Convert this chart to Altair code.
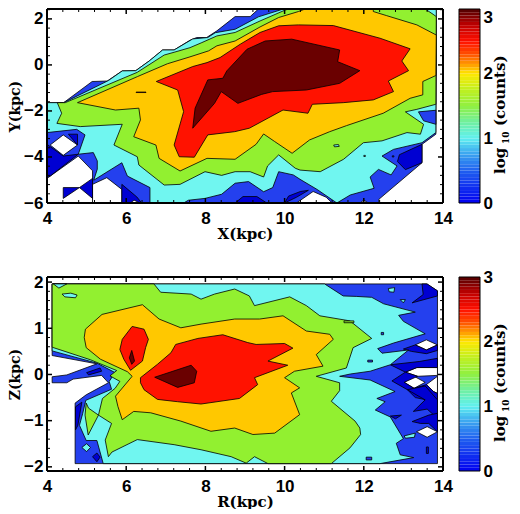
import altair as alt
import pandas as pd

DARK="#0000d2"; BLUE="#2440ee"; CYAN="#70f6f0"; GREEN="#92f030"; ORANGE="#ffc800"; RED="#ff1200"; DEEP="#6a0000"; WHITE="#ffffff"

# ---------- X-Y panel contour boundaries (kpc) ----------
T_BLUE=[(4,-1.64),(4.42,-1.64),(5.14,-0.72),(5.52,-0.70),(5.9,-0.26),(6.24,-0.25),(6.58,0.17),(6.92,0.65),(7.21,0.65),(7.61,1.07),(7.78,1.19),(8.03,1.19),(8.29,1.48),(8.75,2.10),(9.13,2.10),(9.34,2.43),(13.83,2.43),(13.82,-3.01),(13.47,-3.45),(13.47,-4.25),(12.38,-5.84),(12.38,-6),(4,-6)]
T_WHITE1=[(4.41,-3.04),(4.77,-3.48),(4.41,-3.93),(4.08,-3.48)]
T_WHITE2=[(4,-6),(4,-4.9),(4.05,-4.87),(4.79,-3.96),(5.15,-4.6),(5.15,-6)]
T_WHITE3=[(5.15,-6),(5.15,-5.19),(5.51,-4.9),(5.89,-5.41),(5.89,-6)]
T_DARK1=[(4,-3.45),(4.41,-3.96),(4.79,-3.88),(4.05,-4.87),(4,-4.87)]
T_DARK2=[(4.54,-3.01),(4.77,-3.01),(4.77,-3.48)]
T_DARK3=[(4.41,-5.33),(4.82,-5.33),(5.15,-4.93),(5.15,-5.8),(4.82,-5.33),(4.41,-5.8)]
T_DARK4=[(5.89,-5.19),(6.27,-5.74),(6.39,-6),(5.89,-6)]
T_DARK5=[(8.75,-6),(8.95,-5.72),(9.3,-5.72),(9.55,-6)]
T_DARK6=[(12.9,-3.9),(13.47,-3.45),(13.47,-4.25),(13.05,-4.55),(12.85,-4.2)]
T_DARK7=[(10.0,-6),(10.1,-5.7),(10.4,-5.5),(10.6,-5.45),(10.3,-5.75)]
T_WHITE4=[(10.3,-6),(10.72,-5.5),(11.05,-5.75),(11.2,-6)]
T_WHITE5=[(6.1,-6),(6.2,-5.88),(6.35,-6)]
T_WHITE6=[(11.9,-6),(12.0,-5.88),(12.12,-6)]
T_CYAN=[(4,-1.64),(4.42,-1.64),(5.55,-0.68),(5.9,-0.26),(6.24,-0.25),(6.58,0.17),(6.92,0.65),(7.21,0.65),(7.68,1.13),(8.06,1.19),(8.25,1.40),(8.75,1.55),(9.34,2.09),(9.97,2.43),(13.83,2.43),(13.82,-2.94),(13.47,-3.38),(12.75,-3.67),(12.46,-3.96),(12.84,-4.39),(12.69,-4.78),(12.37,-4.54),(12.16,-4.87),(12.26,-5.36),(11.66,-5.65),(11.32,-6),(10.82,-5.41),(10.39,-4.97),(10.22,-4.78),(9.85,-4.64),(9.70,-5.33),(9.47,-5.51),(9.09,-5.07),(8.75,-5.14),(8.41,-5.62),(7.99,-5.80),(7.57,-5.88),(7.45,-6),(6.60,-6),(6.60,-5.33),(6.03,-4.83),(5.89,-4.25),(5.18,-5.01),(5.27,-4.53),(5.27,-4.17),(5.17,-3.81),(4.79,-3.88),(4.96,-3.04),(4.75,-2.8),(4,-2.94)]
T_BLUE2=[(13.38,-2.04),(13.82,-1.97),(13.82,-2.58),(13.51,-2.43)]
T_GREEN=[(4.26,-1.64),(4.46,-1.64),(6.28,-0.32),(6.96,0.43),(7.21,0.55),(7.61,0.75),(7.91,0.97),(8.29,1.26),(8.75,1.41),(9.38,1.91),(10.01,2.38),(10.1,2.43),(13.55,2.43),(13.75,2.2),(13.83,2.1),(13.82,-1.71),(13.34,-1.93),(13.05,-2.04),(13.51,-2.58),(13.43,-3.01),(13.09,-2.94),(12.46,-3.30),(11.99,-3.38),(11.49,-4.10),(10.90,-4.64),(10.39,-4.57),(10.27,-4.49),(9.85,-3.91),(9.57,-4.39),(9.47,-4.87),(9.13,-4.64),(8.75,-4.64),(8.41,-4.80),(7.99,-4.64),(7.36,-5.19),(6.96,-5.22),(6.32,-4.35),(6.28,-3.99),(5.69,-3.48),(5.90,-2.58),(4.84,-2.68),(4.25,-2.54),(4.37,-2.10)]
T_ORANGE=[(4.77,-1.64),(6.28,-0.51),(7.04,0.05),(7.61,0.35),(8.08,0.61),(8.29,0.83),(8.75,1.04),(9.38,1.65),(9.85,2.06),(10.35,2.32),(10.52,2.43),(12.24,2.43),(12.24,2.32),(12.58,2.14),(13.34,1.74),(13.83,1.30),(13.82,-0.46),(13.49,-0.72),(13.49,-1.30),(13.17,-1.45),(12.49,-2.10),(11.56,-2.64),(11.14,-2.90),(10.63,-3.26),(10.19,-3.84),(9.75,-3.33),(9.47,-3.0),(9.28,-3.45),(8.75,-4.10),(8.04,-4.06),(7.36,-4.61),(6.83,-4.06),(6.75,-3.48),(6.19,-3.12),(6.36,-2.39),(6.32,-1.88),(5.73,-1.96)]
T_RED=[(6.76,-0.72),(7.68,-0.07),(8.04,0.10),(8.37,0.32),(8.88,0.90),(9.38,1.41),(9.85,1.70),(10.35,1.74),(11.23,1.71),(12.41,1.16),(13.17,0.70),(12.96,0.17),(13.13,-0.25),(12.62,-0.70),(12.75,-1.16),(12.24,-1.52),(11.48,-1.64),(10.70,-1.71),(10.59,-2.10),(9.96,-1.96),(9.11,-2.75),(8.74,-2.90),(8.06,-3.04),(7.72,-4.01),(7.34,-3.99),(7.21,-3.48),(7.45,-2.03),(7.30,-1.09)]
T_DEEP=[(7.68,-2.75),(7.74,-1.88),(8.06,-0.65),(8.44,-0.58),(8.54,-0.26),(9.05,0.68),(9.51,1.04),(10.18,1.12),(11.39,0.65),(11.34,0.14),(11.90,-0.25),(11.39,-0.80),(10.55,-1.09),(9.70,-1.16),(9.42,-1.28),(8.82,-1.67),(8.40,-1.16),(8.23,-1.67)]
T_DASH1=[(6.25,-1.18),(6.5,-1.18),(6.5,-1.2),(6.25,-1.2)]
T_DASH2=[(11.24,-3.48),(11.36,-3.46),(11.38,-3.54),(11.26,-3.56)]
T_DASH3=[(12.0,-3.93),(12.04,-3.93),(12.04,-3.98),(12.0,-3.98)]
T_DASH4=[(12.72,-3.95),(12.76,-3.95),(12.76,-4.0),(12.72,-4.0)]
TOP=[(BLUE,T_BLUE),(WHITE,T_WHITE1),(WHITE,T_WHITE2),(WHITE,T_WHITE3),(WHITE,T_WHITE4),(DARK,T_DARK1),(DARK,T_DARK2),(DARK,T_DARK3),(DARK,T_DARK4),(DARK,T_DARK5),(DARK,T_DARK6),(DARK,T_DARK7),(WHITE,T_WHITE5),(WHITE,T_WHITE6),
     (CYAN,T_CYAN),(BLUE,T_BLUE2),(GREEN,T_GREEN),(ORANGE,T_ORANGE),(RED,T_RED),(DEEP,T_DEEP),(RED,T_DASH1),(CYAN,T_DASH2),(CYAN,T_DASH3),(BLUE,T_DASH4)]

# ---------- R-Z panel contour boundaries (kpc) ----------
B_BLUE=[(4.13,1.96),(13.59,1.96),(13.86,1.81),(13.86,-1.93),(4.71,-1.93),(4.71,-0.62),(4.99,-0.44),(5.55,-0.18),(5.38,-0.02),(4.66,-0.10),(4.50,-0.18),(4.13,-0.18),(4.13,-0.05),(4.50,-0.01),(5.26,0.23),(4.13,0.41)]
B_WHITE1=[(13.30,0.64),(13.58,0.75),(13.86,0.64),(13.58,0.53)]
B_WHITE2=[(13.05,0.05),(13.34,0.15),(13.86,0.15),(13.86,-0.02),(13.36,-0.04)]
B_WHITE3=[(13.02,-0.17),(13.27,-0.04),(13.55,-0.17),(13.27,-0.30)]
B_WHITE4=[(13.58,-0.22),(13.86,-0.04),(13.86,-0.41),(13.76,-0.37)]
B_WHITE5=[(13.33,-1.24),(13.6,-1.13),(13.86,-1.24),(13.6,-1.36)]
B_D1=[(13.47,1.96),(13.6,1.96),(13.86,1.81),(13.86,1.70),(13.22,1.55),(13.5,1.73)]
B_D2=[(13.0,0.55),(13.3,0.64),(13.58,0.53),(13.86,0.64),(13.86,0.52),(13.58,0.45),(13.2,0.5)]
B_D3=[(12.67,0.21),(13.4,0.28),(13.86,0.35),(13.86,0.15),(13.34,0.15),(13.05,0.05)]
B_D4=[(12.71,-0.14),(13.05,0.05),(13.36,-0.04),(13.02,-0.17),(13.27,-0.30),(13.58,-0.22),(13.76,-0.37),(13.86,-0.41),(13.86,-0.6),(13.3,-0.5),(13.1,-0.33)]
B_D5=[(13.1,-0.33),(13.55,-0.25),(13.86,-0.55),(13.86,-0.95),(13.6,-0.75),(13.25,-0.8),(13.55,-0.55)]
B_D6=[(13.22,-1.02),(13.64,-0.88),(13.86,-0.84),(13.86,-1.24),(13.64,-1.06),(13.43,-1.06)]
B_D7=[(12.67,-0.9),(12.95,-0.88),(12.8,-0.96)]
B_D8=[(13.58,-1.57),(13.63,-1.57),(13.63,-1.71),(13.58,-1.71)]
B_D9=[(4.72,-0.7),(4.88,-0.6),(4.78,-1.1),(4.72,-1.2)]
B_D10=[(5.0,0.04),(5.34,0.14),(5.38,0.07),(5.05,-0.01)]
B_D11=[(5.15,-1.78),(5.26,-1.70),(5.34,-1.79),(5.26,-1.89)]
B_D12=[(6.9,-1.9),(6.97,-1.72),(7.08,-1.72),(7.1,-1.9)]
B_CYAN=[(4.13,1.96),(11.01,1.96),(11.48,1.70),(11.81,1.69),(12.20,1.67),(12.50,1.53),(13.30,1.35),(12.88,1.28),(13.0,1.15),(13.55,0.88),(12.75,0.68),(12.35,0.56),(12.46,0.46),(13.13,0.53),(12.67,0.21),(12.16,0.07),(11.66,0.01),(11.39,-0.04),(12.16,-0.12),(12.79,-0.37),(12.33,-0.52),(12.54,-0.59),(12.29,-0.77),(12.67,-0.92),(13.0,-1.39),(12.82,-1.49),(12.92,-1.74),(13.26,-1.80),(12.41,-1.93),(5.42,-1.93),(5.26,-1.43),(4.99,-1.43),(4.82,-1.1),(4.9,-0.85),(4.98,-0.56),(5.63,-0.32),(5.57,-0.15),(5.72,0.04),(5.26,0.245),(4.13,0.51)]
B_GREEN=[(4.13,1.96),(6.70,1.96),(6.87,1.78),(7.64,1.74),(7.89,1.63),(8.23,1.74),(8.74,1.85),(9.11,1.70),(9.24,1.49),(10.13,1.68),(10.55,1.49),(10.89,1.27),(11.65,1.16),(12.20,0.78),(11.73,0.58),(11.56,0.14),(10.80,-0.04),(11.39,-0.18),(11.39,-0.35),(11.18,-0.58),(11.78,-1.01),(11.90,-1.16),(11.92,-1.30),(11.65,-1.59),(11.18,-1.93),(9.58,-1.93),(9.24,-1.78),(9.03,-1.92),(8.65,-1.78),(7.89,-1.63),(7.21,-1.52),(6.28,-1.41),(5.64,-1.68),(5.55,-1.78),(5.47,-1.42),(5.63,-1.06),(5.30,-0.88),(5.40,-0.52),(5.72,-0.30),(5.84,-0.15),(5.59,-0.03),(5.76,0.085),(5.09,0.32),(4.13,0.59)]
B_GREEN2=[(4.99,-0.62),(5.05,-0.73),(5.30,-0.88),(5.04,-1.31),(4.96,-0.88)]
B_C1=[(4.16,1.96),(4.5,1.96),(4.3,1.87)]
B_C2=[(4.38,1.74),(4.6,1.76),(4.76,1.72),(4.72,1.66),(4.45,1.68)]
B_C3=[(4.88,-1.58),(5.0,-1.50),(5.10,-1.58),(5.0,-1.67)]
B_C4=[(12.62,1.86),(12.78,1.88),(12.76,1.78),(12.64,1.79)]
B_C5=[(12.92,1.62),(13.05,1.62),(13.0,1.55)]
B_C6=[(13.02,-1.33),(13.3,-1.27),(13.28,-1.36),(13.05,-1.38)]
B_ORANGE=[(4.97,0.98),(5.39,1.30),(6.41,1.51),(6.83,1.20),(7.38,1.01),(7.89,1.09),(8.74,1.20),(9.37,1.20),(9.96,1.27),(10.55,0.94),(11.14,0.87),(11.23,0.76),(10.80,0.43),(10.97,0.18),(10.25,0.07),(10.0,-0.07),(10.38,-0.29),(10.17,-0.40),(10.38,-0.87),(9.75,-1.27),(9.2,-1.30),(8.74,-1.16),(8.14,-1.23),(7.38,-1.01),(6.62,-0.83),(6.19,-0.80),(5.90,-0.98),(5.79,-0.69),(5.73,-0.47),(6.15,-0.04),(6.03,0.06),(5.35,0.33),(4.99,0.58),(4.94,0.80)]
B_RED1=[(6.15,1.04),(6.45,0.98),(6.56,0.76),(6.49,0.58),(6.41,0.29),(6.11,0.09),(5.94,0.33),(5.84,0.54),(5.90,0.76)]
B_DEEP1=[(6.14,0.52),(6.21,0.29),(6.14,0.22),(6.08,0.36)]
B_RED2=[(6.36,-0.07),(6.79,0.22),(7.13,0.47),(7.25,0.65),(7.81,0.78),(8.44,0.86),(9.07,0.69),(9.28,0.65),(10.0,0.67),(10.21,0.57),(9.58,0.29),(10.08,0.20),(9.24,-0.07),(9.32,-0.22),(8.86,-0.52),(7.89,-0.64),(7.30,-0.59),(6.79,-0.54),(6.45,-0.33),(6.36,-0.18)]
B_DEEP2=[(6.72,-0.06),(7.64,0.20),(7.78,0.07),(7.72,-0.18),(7.30,-0.28)]
B_DASH1=[(11.5,1.16),(11.75,1.16),(11.75,1.12),(11.5,1.12)]
B_DASH2=[(12.1,0.31),(12.22,0.31),(12.22,0.27),(12.1,0.27)]
B_DASH3=[(12.06,-1.79),(12.2,-1.79),(12.2,-1.85),(12.06,-1.85)]
B_DASH4=[(12.44,0.91),(12.5,0.91),(12.5,0.86),(12.44,0.86)]
BOTTOM=[(BLUE,B_BLUE),(WHITE,B_WHITE1),(WHITE,B_WHITE2),(WHITE,B_WHITE3),(WHITE,B_WHITE4),(WHITE,B_WHITE5),
        (DARK,B_D1),(DARK,B_D2),(DARK,B_D3),(DARK,B_D4),(DARK,B_D5),(DARK,B_D6),(DARK,B_D7),(DARK,B_D8),(DARK,B_D9),(DARK,B_D10),(DARK,B_D11),(DARK,B_D12),
        (CYAN,B_CYAN),(GREEN,B_GREEN),(GREEN,B_GREEN2),(CYAN,B_C1),(CYAN,B_C2),(CYAN,B_C3),(CYAN,B_C4),(CYAN,B_C5),(CYAN,B_C6),
        (ORANGE,B_ORANGE),(RED,B_RED1),(DEEP,B_DEEP1),(RED,B_RED2),(DEEP,B_DEEP2),(GREEN,B_DASH1),(BLUE,B_DASH2),(BLUE,B_DASH3),(BLUE,B_DASH4)]

X_MAJOR=[4,6,8,10,12,14]
X_MINOR=[4.4,4.8,5.2,5.6,6.4,6.8,7.2,7.6,8.4,8.8,9.2,9.6,10.4,10.8,11.2,11.6,12.4,12.8,13.2,13.6]
TOP_Y_MAJOR=[-6,-4,-2,0,2]
TOP_Y_MINOR=[-5.6,-5.2,-4.8,-4.4,-3.6,-3.2,-2.8,-2.4,-1.6,-1.2,-0.8,-0.4,0.4,0.8,1.2,1.6,2.4]
BOT_Y_MAJOR=[-2,-1,0,1,2]
BOT_Y_MINOR=[-1.8,-1.6,-1.4,-1.2,-0.8,-0.6,-0.4,-0.2,0.2,0.4,0.6,0.8,1.2,1.4,1.6,1.8]
CB_STOPS=[0,0.5,0.8,1.0,1.25,1.5,1.75,2.0,2.1,2.3,2.5,2.75,3.0]
CB_COLORS=["#0000f0","#2060f0","#40b0f0","#60f0f0","#70f0a0","#90f040","#c0f020","#ffe800","#ffb000","#ff5000","#ff1000","#c00000","#500000"]
CB_LOW=[i/20 for i in range(60)]

W,H=396,194
SANS="Liberation Sans"; SERIF="DejaVu Serif"

def panel(polys,ydom,ymaj,ymin,xt,yt):
    xs=alt.Scale(domain=[4,14],nice=False); ys=alt.Scale(domain=ydom,nice=False)
    layers=[]
    for n,(col,pts) in enumerate(polys):
        pts=pts+[pts[0]]
        df=pd.DataFrame({"x":[p[0] for p in pts],"y":[p[1] for p in pts],"i":range(len(pts))})
        if n==0:
            ex=alt.X("x:Q",scale=xs,axis=alt.Axis(values=X_MAJOR,ticks=False,domain=False,grid=False,title=xt,format="d",labelFont=SANS,labelFontWeight="bold",labelFontSize=17,labelColor="black",labelPadding=7,titleFont=SERIF,titleFontWeight="bold",titleFontSize=15,titleColor="black",titlePadding=0,labelOverlap=False,labelFlush=False))
            ey=alt.Y("y:Q",scale=ys,axis=alt.Axis(values=ymaj,ticks=False,domain=False,grid=False,title=yt,format="d",labelFont=SANS,labelFontWeight="bold",labelFontSize=17,labelColor="black",labelPadding=4,titleFont=SERIF,titleFontWeight="bold",titleFontSize=14,titleColor="black",titlePadding=1,labelOverlap=False))
        else:
            ex=alt.X("x:Q",scale=xs); ey=alt.Y("y:Q",scale=ys)
        layers.append(alt.Chart(df).mark_line(fill=col,stroke="black",strokeWidth=0.8,clip=True,interpolate="linear",strokeJoin="round").encode(x=ex,y=ey,order="i:Q"))
    def vt(vals,a,b,wd):
        return alt.Chart(pd.DataFrame({"v":vals})).mark_rule(color="black",strokeWidth=wd).encode(x=alt.X("v:Q",scale=xs),y=alt.value(a),y2=alt.value(b))
    def ht(vals,a,b,wd):
        return alt.Chart(pd.DataFrame({"v":vals})).mark_rule(color="black",strokeWidth=wd).encode(y=alt.Y("v:Q",scale=ys),x=alt.value(a),x2=alt.value(b))
    layers+= [vt(X_MAJOR,0,5,1.5),vt(X_MINOR,0,3,1),vt(X_MAJOR,H-5,H,1.5),vt(X_MINOR,H-3,H,1),
              ht(ymaj,0,5,1.5),ht(ymin,0,3,1),ht(ymaj,W-5,W,1.5),ht(ymin,W-3,W,1)]
    one=pd.DataFrame({"a":[0]})
    frame=[dict(x=alt.value(0),x2=alt.value(W),y=alt.value(0)),dict(x=alt.value(0),x2=alt.value(W),y=alt.value(H)),
           dict(y=alt.value(0),y2=alt.value(H),x=alt.value(0)),dict(y=alt.value(0),y2=alt.value(H),x=alt.value(W))]
    for f in frame:
        layers.append(alt.Chart(one).mark_rule(color="black",strokeWidth=2).encode(**f))
    return alt.layer(*layers).properties(width=W,height=H)

def colorbar(top_aligned):
    df=pd.DataFrame({"lo":CB_LOW})
    df["hi"]=df["lo"]+0.05
    df["mid"]=df["lo"]+0.025
    ys=alt.Scale(domain=[0,3],nice=False)
    base=alt.expr("datum.value==3?'top':'middle'") if top_aligned else "middle"
    bar=alt.Chart(df).mark_rect().encode(
        y=alt.Y("lo:Q",scale=ys,axis=alt.Axis(orient="right",values=[0,1,2,3],ticks=False,domain=False,grid=False,title=None,format="d",labelFont=SANS,labelFontWeight="bold",labelFontSize=17,labelColor="black",labelPadding=3,labelOverlap=False,labelBaseline=base)),
        y2="hi:Q",
        x=alt.value(0),x2=alt.value(21),
        color=alt.Color("mid:Q",scale=alt.Scale(domain=CB_STOPS,range=CB_COLORS,interpolate="rgb"),legend=None))
    one=pd.DataFrame({"a":[0]})
    frame=alt.Chart(one).mark_rect(fill=None,stroke="black",strokeWidth=1).encode(x=alt.value(0),x2=alt.value(21),y=alt.value(0),y2=alt.value(H))
    def txt(t,x,y,s):
        return alt.Chart(one).mark_text(text=t,angle=270,align="left",baseline="middle",font=SERIF,fontWeight="bold",fontSize=s,color="black").encode(x=alt.value(x),y=alt.value(y))
    return alt.layer(bar,frame,txt("log",41,165,15),txt("10",47,135,9),txt("(counts)",41,117,15)).properties(width=21,height=H)

top=panel(TOP,[-6,2.43],TOP_Y_MAJOR,TOP_Y_MINOR,"X(kpc)","Y(kpc)")
bot=panel(BOTTOM,[-2.09,2.11],BOT_Y_MAJOR,BOT_Y_MINOR,"R(kpc)","Z(kpc)")
row1=alt.hconcat(top,colorbar(True),spacing=5)
row2=alt.hconcat(bot,colorbar(False),spacing=5)
chart=alt.vconcat(row1,row2,spacing=27).properties(padding={"left":0,"top":0,"bottom":0,"right":0},background="white").configure_view(stroke=None)
chart.save("out.html",embed_options={"renderer":"svg","actions":False})
